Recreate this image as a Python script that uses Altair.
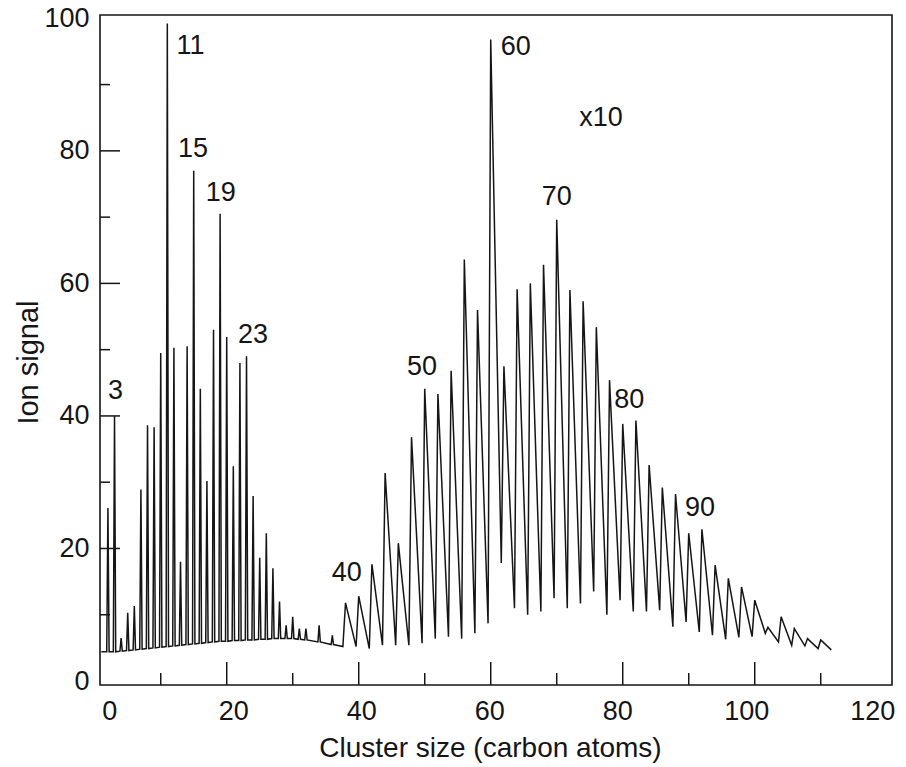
import altair as alt
import pandas as pd

# ---- data ----
# small clusters (every size), peak height and local baseline
small_n = [2, 3, 4, 5, 6, 7, 8, 9, 10, 11, 12, 13, 14, 15, 16, 17, 18, 19, 20,
           21, 22, 23, 24, 25, 26, 27, 28, 29, 30, 31, 32, 34, 36]
small_peak = [26.1, 40.0, 6.5, 10.3, 11.3, 28.9, 38.6, 38.3, 49.5, 99.2, 50.3,
              18.0, 50.5, 77.0, 44.1, 30.2, 53.0, 70.5, 51.9, 32.4, 48.0, 49.0,
              27.9, 18.6, 22.3, 17.0, 12.0, 8.4, 9.7, 7.9, 7.9, 8.4, 6.9]
small_base = [4.4, 4.4, 4.5, 4.6, 4.7, 4.8, 4.9, 5.0, 5.1, 5.2, 5.3, 5.4, 5.5,
              5.6, 5.7, 5.8, 5.9, 6.0, 6.0, 6.1, 6.1, 6.2, 6.2, 6.3, 6.3, 6.4,
              6.4, 6.4, 6.4, 6.3, 6.2, 5.9, 5.5]
spectrum_start = (1.0, 4.4)

# large clusters (even sizes, x10 scale), peak height and valley after each peak
large_n = [38, 40, 42, 44, 46, 48, 50, 52, 54, 56, 58, 60, 62, 64, 66, 68, 70,
           72, 74, 76, 78, 80, 82, 84, 86, 88, 90, 92, 94, 96, 98, 100, 102,
           104, 106, 108, 110]
large_peak = [11.8, 12.8, 17.6, 31.4, 20.8, 36.8, 44.1, 43.3, 46.8, 63.6, 56.0,
              96.8, 47.5, 59.1, 60.0, 62.8, 69.6, 59.0, 57.3, 53.4, 45.4, 38.8,
              39.3, 32.6, 29.2, 28.2, 22.3, 22.9, 17.5, 15.5, 14.2, 12.2, 8.1,
              9.7, 7.9, 6.4, 6.2]
large_valley = [5.2, 4.9, 5.4, 5.4, 5.4, 5.7, 6.4, 6.7, 6.4, 7.2, 8.7, 17.8,
                11.0, 10.0, 10.5, 12.5, 11.0, 11.7, 13.5, 10.0, 12.2, 10.5, 10.5,
                10.7, 8.2, 8.9, 7.4, 6.9, 6.3, 6.6, 6.7, 7.2, 5.9, 5.4, 5.3, 4.9,
                4.7]
large_start_valley = 5.2

# axis ticks / labels
x_labels = [0, 20, 40, 60, 80, 100, 120]
x_label_dx = [15, 7, 3, -1, -5, -8, -14]   # scan offsets of the printed labels (px)
y_labels = [0, 20, 40, 60, 80, 100]
x_ticks_major = [20, 40, 60, 80, 100]
x_ticks_minor = [10, 30, 50, 70, 90, 110]
y_ticks_major = [20, 40, 60, 80]
y_ticks_minor = [10, 30, 50, 70, 90]

# peak annotations
ann_text = ["3", "11", "15", "19", "23", "40", "50", "60", "70", "80", "90", "x10"]
ann_x = [3.15, 14.5, 14.9, 19.1, 24.0, 38.2, 49.6, 63.8, 70.0, 81.0, 91.7, 76.7]
ann_y = [43.8, 95.8, 80.3, 73.7, 52.2, 16.3, 47.4, 95.7, 73.1, 42.4, 26.1, 85.0]

# ---- build line table ----
SPIKE = 0.18   # half width of small-cluster spikes
FALL = 1.6     # distance from large peak to its valley
xs, ys = [spectrum_start[0]], [spectrum_start[1]]
for n, h, b in zip(small_n, small_peak, small_base):
    xs += [n - SPIKE, n, n + SPIKE]
    ys += [b, h, b]
xs.append(large_n[0] + FALL - 2)
ys.append(large_start_valley)
for n, h, v in zip(large_n, large_peak, large_valley):
    xs += [n, n + FALL]
    ys += [h, v]
spec_df = pd.DataFrame({"x": xs, "y": ys, "i": list(range(len(xs)))})

FONT = "Liberation Sans"
INK = "#151515"
W, H = 792, 670

x_scale = alt.Scale(domain=[0.8, 120.8], nice=False, zero=False)
y_scale = alt.Scale(domain=[-0.6, 100.5], nice=False, zero=False)

X_AXIS = alt.Axis(title="Cluster size (carbon atoms)", labels=False,
                  ticks=False, domain=False, grid=False,
                  titleX=390, titleY=63, titleBaseline="middle",
                  titleAlign="center", titleFontSize=28,
                  titleFont=FONT, titleFontWeight="normal", titleColor=INK)
Y_AXIS = alt.Axis(values=y_labels, title="Ion signal", ticks=False,
                  domain=False, grid=False, labelFontSize=27,
                  labelFont=FONT, labelColor=INK, labelPadding=11,
                  titleX=-72, titleY=347, titleAngle=-90,
                  titleBaseline="middle", titleAlign="center",
                  titleFontSize=29, titleFont=FONT,
                  titleFontWeight="normal", titleColor=INK)

spectrum = alt.Chart(spec_df).mark_line(color=INK, strokeWidth=1.5).encode(
    x=alt.X("x:Q", scale=x_scale, axis=X_AXIS),
    y=alt.Y("y:Q", scale=y_scale, axis=Y_AXIS),
    order="i:Q",
)

def xticks(vals, length):
    return alt.Chart(pd.DataFrame({"v": vals})).mark_rule(
        color=INK, strokeWidth=1.5).encode(
        x=alt.X("v:Q", scale=x_scale, axis=X_AXIS),
        y=alt.value(H), y2=alt.value(H - length))

def yticks(vals, length):
    return alt.Chart(pd.DataFrame({"v": vals})).mark_rule(
        color=INK, strokeWidth=1.5).encode(
        y=alt.Y("v:Q", scale=y_scale, axis=Y_AXIS),
        x=alt.value(0), x2=alt.value(length))

xlab_layers = []
for v, dx in zip(x_labels, x_label_dx):
    xlab_layers.append(
        alt.Chart(pd.DataFrame({"v": [v]})).mark_text(
            font=FONT, fontSize=27, color=INK, align="center",
            baseline="middle", dx=dx).encode(
            x=alt.X("v:Q", scale=x_scale, axis=X_AXIS),
            y=alt.value(H + 27),
            text=alt.Text("v:Q", format="d")))

ann = alt.Chart(pd.DataFrame({"x": ann_x, "y": ann_y, "t": ann_text})).mark_text(
    font=FONT, fontSize=27, color=INK, align="center", baseline="middle").encode(
    x=alt.X("x:Q", scale=x_scale, axis=X_AXIS),
    y=alt.Y("y:Q", scale=y_scale, axis=Y_AXIS),
    text="t:N")

chart = alt.layer(
    spectrum,
    xticks(x_ticks_major, 23), xticks(x_ticks_minor, 12),
    yticks(y_ticks_major, 20), yticks(y_ticks_minor, 10),
    *xlab_layers, ann,
).properties(
    width=W, height=H,
    padding={"left": 100, "top": 15, "right": 14, "bottom": 82},
    autosize=alt.AutoSizeParams(type="none"),
    background="white",
).configure_view(stroke=INK, strokeWidth=1.6)

chart.save("out.html", embed_options={"renderer": "svg", "actions": False})
